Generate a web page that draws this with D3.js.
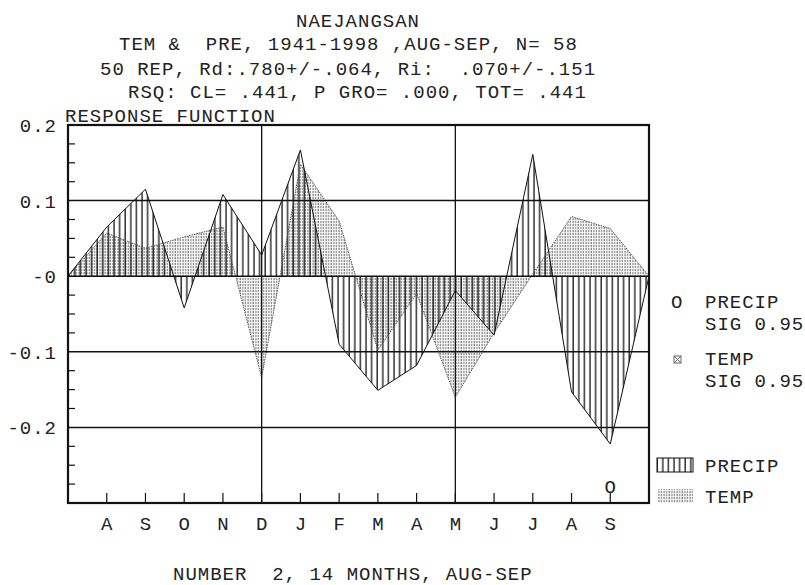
<!DOCTYPE html>
<html>
<head>
<meta charset="utf-8">
<script src="https://cdn.jsdelivr.net/npm/d3@7"></script>
<style>
  body { margin: 0; background: #fff; }
  svg text { font-family: "Liberation Mono", "DejaVu Sans Mono", monospace; font-size: 19px; letter-spacing: 1px; fill: #222; }
</style>
</head>
<body>
<svg id="chart"></svg>
<script>
const width = 805;
const height = 585;

// month labels for the 14-month window (AUG..SEP)
const months = ["A", "S", "O", "N", "D", "J", "F", "M", "A", "M", "J", "J", "A", "S"];
// response function coefficients
const precip = [0.065, 0.115, -0.042, 0.108, 0.028, 0.167, -0.090, -0.151, -0.118, -0.019, -0.078, 0.161, -0.153, -0.222];
const temp = [0.057, 0.037, 0.052, 0.065, -0.134, 0.148, 0.073, -0.098, -0.023, -0.160, -0.075, 0.003, 0.079, 0.063];
// significance flags (0.95)
const precipSig = [0, 0, 0, 0, 0, 0, 0, 0, 0, 0, 0, 0, 0, 1];
const tempSig = [0, 0, 0, 0, 0, 0, 0, 0, 0, 0, 0, 0, 0, 0];

const yMajor = [0.2, 0.1, 0, -0.1, -0.2];
const yMajorLabels = ["0.2", "0.1", "-0", "-0.1", "-0.2"];
const titleLines = [
    "NAEJANGSAN",
    "TEM &  PRE, 1941-1998 ,AUG-SEP, N= 58",
    "50 REP, Rd:.780+/-.064, Ri:  .070+/-.151",
    "RSQ: CL= .441, P GRO= .000, TOT= .441"
];

const svg = d3.select("#chart")
    .attr("width", width)
    .attr("height", height);

const x = d3.scaleLinear().domain([0, 15]).range([68, 649]);
const y = d3.scaleLinear().domain([-0.3, 0.2]).range([503, 125]);

// pad each series with a zero at both ends of the axis
const toPts = arr => [[0, 0], ...arr.map((v, i) => [i + 1, v]), [15, 0]];

const defs = svg.append("defs");
defs.append("pattern")
    .attr("id", "hatchTemp")
    .attr("patternUnits", "userSpaceOnUse")
    .attr("width", 2.6).attr("height", 3)
    .append("line")
    .attr("x1", 1).attr("x2", 1).attr("y1", 0).attr("y2", 3)
    .attr("stroke", "#555").attr("stroke-width", 0.9)
    .attr("stroke-dasharray", "1.2,0.8");
defs.append("pattern")
    .attr("id", "hatchPrecip")
    .attr("patternUnits", "userSpaceOnUse")
    .attr("width", 5.6).attr("height", 10)
    .append("line")
    .attr("x1", 2).attr("x2", 2).attr("y1", 0).attr("y2", 10)
    .attr("stroke", "#000").attr("stroke-width", 1.2);

const area = d3.area()
    .x(d => x(d[0]))
    .y0(y(0))
    .y1(d => y(d[1]));
const line = d3.line()
    .x(d => x(d[0]))
    .y(d => y(d[1]));

svg.append("path")
    .attr("d", area(toPts(temp)))
    .attr("fill", "url(#hatchTemp)");
svg.append("path")
    .attr("d", area(toPts(precip)))
    .attr("fill", "url(#hatchPrecip)");
svg.append("path")
    .attr("d", line(toPts(temp)))
    .attr("fill", "none")
    .attr("stroke", "#555")
    .attr("stroke-width", 1)
    .attr("stroke-dasharray", "1.5,1");
svg.append("path")
    .attr("d", line(toPts(precip)))
    .attr("fill", "none")
    .attr("stroke", "#111")
    .attr("stroke-width", 1);

// grid lines
svg.append("g")
    .selectAll("line")
    .data([0.1, 0, -0.1, -0.2])
    .enter().append("line")
    .attr("x1", x(0)).attr("x2", x(15))
    .attr("y1", d => y(d)).attr("y2", d => y(d))
    .attr("stroke", "#111").attr("stroke-width", 1.5);
svg.append("g")
    .selectAll("line")
    .data([5, 10])
    .enter().append("line")
    .attr("x1", d => x(d)).attr("x2", d => x(d))
    .attr("y1", y(0.2)).attr("y2", y(-0.3))
    .attr("stroke", "#111").attr("stroke-width", 1.3);

// left minor ticks
const minor = d3.range(-0.275, 0.2, 0.025).filter(v => Math.abs(Math.round(v * 10) - v * 10) > 0.01);
svg.append("g")
    .selectAll("line")
    .data(minor)
    .enter().append("line")
    .attr("x1", x(0)).attr("x2", x(0) + 7)
    .attr("y1", d => y(d)).attr("y2", d => y(d))
    .attr("stroke", "#111").attr("stroke-width", 1.2);

// bottom month ticks
svg.append("g")
    .selectAll("line")
    .data(months)
    .enter().append("line")
    .attr("x1", (d, i) => x(i + 1)).attr("x2", (d, i) => x(i + 1))
    .attr("y1", y(-0.3)).attr("y2", y(-0.3) - 10)
    .attr("stroke", "#111").attr("stroke-width", 1.2);

// frame
svg.append("rect")
    .attr("x", x(0)).attr("y", y(0.2))
    .attr("width", x(15) - x(0)).attr("height", y(-0.3) - y(0.2))
    .attr("fill", "none").attr("stroke", "#111").attr("stroke-width", 2.2);

// y labels
svg.append("g")
    .selectAll("text")
    .data(yMajor)
    .enter().append("text")
    .attr("x", 57)
    .attr("y", d => y(d) + 7)
    .attr("text-anchor", "end")
    .text((d, i) => yMajorLabels[i]);

// month labels
svg.append("g")
    .selectAll("text")
    .data(months)
    .enter().append("text")
    .attr("x", (d, i) => x(i + 1) + 0.5)
    .attr("y", 530)
    .attr("text-anchor", "middle")
    .text(d => d);

// significance markers
svg.append("g")
    .selectAll("text")
    .data(precip.map((v, i) => ({ i, s: precipSig[i] })).filter(d => d.s))
    .enter().append("text")
    .attr("x", d => x(d.i + 1) + 0.5)
    .attr("y", 493)
    .attr("text-anchor", "middle")
    .text("O");

// titles
const titleX = [296, 119, 100, 128];
const titleY = [27, 50, 75, 98];
svg.append("g")
    .selectAll("text")
    .data(titleLines)
    .enter().append("text")
    .attr("x", (d, i) => titleX[i])
    .attr("y", (d, i) => titleY[i])
    .style("white-space", "pre")
    .text(d => d);

svg.append("text").attr("x", 65).attr("y", 122).text("RESPONSE FUNCTION");
svg.append("text").attr("x", 173).attr("y", 580)
    .style("white-space", "pre")
    .text("NUMBER  2, 14 MONTHS, AUG-SEP");

// legend: significance
const lg = svg.append("g");
lg.append("text").attr("x", 671).attr("y", 308).text("O");
lg.append("text").attr("x", 705).attr("y", 308).text("PRECIP");
lg.append("text").attr("x", 705).attr("y", 330).style("white-space", "pre").text("SIG 0.95");
lg.append("rect").attr("x", 674).attr("y", 356).attr("width", 7).attr("height", 7)
    .attr("fill", "none").attr("stroke", "#666").attr("stroke-width", 1);
lg.append("path").attr("d", "M674,356L681,363M681,356L674,363")
    .attr("stroke", "#666").attr("stroke-width", 1);
lg.append("text").attr("x", 705).attr("y", 365).text("TEMP");
lg.append("text").attr("x", 705).attr("y", 387).style("white-space", "pre").text("SIG 0.95");

// legend: hatch swatches
lg.append("rect").attr("x", 657).attr("y", 458).attr("width", 36).attr("height", 14)
    .attr("fill", "url(#hatchPrecip)").attr("stroke", "#111").attr("stroke-width", 1);
lg.append("text").attr("x", 705).attr("y", 472).text("PRECIP");
lg.append("rect").attr("x", 657).attr("y", 489).attr("width", 36).attr("height", 14)
    .attr("fill", "url(#hatchTemp)").attr("stroke", "none");
lg.append("text").attr("x", 705).attr("y", 503).text("TEMP");
</script>
</body>
</html>
